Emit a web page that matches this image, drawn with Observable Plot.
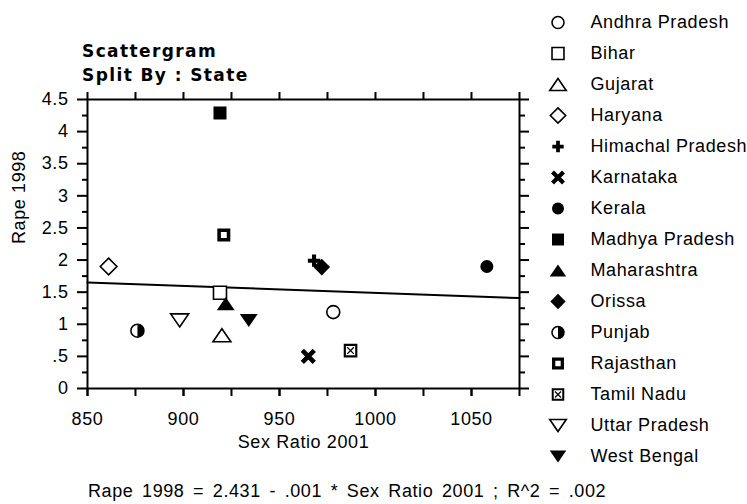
<!DOCTYPE html>
<html>
<head>
<meta charset="utf-8">
<script src="https://cdn.jsdelivr.net/npm/d3@7"></script>
<script src="https://cdn.jsdelivr.net/npm/@observablehq/plot@0.6"></script>
<style>
  body { margin: 0; background: #fff; }
  #wrap { position: relative; width: 747px; height: 504px; background: #fff; overflow: hidden; }
  #plot, #legend { position: absolute; top: 0; }
  #plot { left: 0; }
  #legend { left: 540px; }
  #title { position: absolute; left: 82px; top: 39px; font: bold 17px "DejaVu Sans", sans-serif; letter-spacing: 1.4px; line-height: 24px; color: #000; white-space: nowrap; }
  #eq { position: absolute; left: 88px; top: 481px; font: 18px "Liberation Sans", sans-serif; letter-spacing: 0.6px; word-spacing: 3px; color: #000; white-space: nowrap; }
</style>
</head>
<body>
<div id="wrap">
  <div id="plot"></div>
  <div id="legend"></div>
  <div id="title"></div>
  <div id="eq"></div>
</div>
<script>
// ---------------- data ----------------
const states = ["Andhra Pradesh", "Bihar", "Gujarat", "Haryana", "Himachal Pradesh", "Karnataka", "Kerala",
  "Madhya Pradesh", "Maharashtra", "Orissa", "Punjab", "Rajasthan", "Tamil Nadu", "Uttar Pradesh", "West Bengal"];
const sexRatio2001 = [978, 919, 920, 861, 968, 965, 1058, 919, 922, 972, 876, 921, 987, 898, 934];
const rape1998 = [1.19, 1.49, 0.83, 1.90, 1.99, 0.50, 1.90, 4.29, 1.32, 1.89, 0.90, 2.39, 0.59, 1.06, 1.06];

const xDomain = [850, 1075];
const yDomain = [0, 4.5];
const xTicks = [850, 900, 950, 1000, 1050];
const xTickLabels = ["850", "900", "950", "1000", "1050"];
const xMinorTicks = [850, 875, 900, 925, 950, 975, 1000, 1025, 1050, 1075];
const yTicks = [0, 0.5, 1, 1.5, 2, 2.5, 3, 3.5, 4, 4.5];
const yTickLabels = ["0", ".5", "1", "1.5", "2", "2.5", "3", "3.5", "4", "4.5"];
const yMinorTicks = [0.25, 0.75, 1.25, 1.75, 2.25, 2.75, 3.25, 3.75, 4.25];

const titleLines = ["Scattergram", "Split By : State"];
const xLabel = "Sex Ratio 2001";
const yLabel = "Rape 1998";
const caption = "Rape 1998 = 2.431 - .001 * Sex Ratio 2001 ; R^2 = .002";

// ---------------- marker styles (per state) ----------------
const markerStyle = {
  "Andhra Pradesh": "openCircle", "Bihar": "openSquare", "Gujarat": "openTriUp", "Haryana": "openDiamond",
  "Himachal Pradesh": "plus", "Karnataka": "times", "Kerala": "solidCircle", "Madhya Pradesh": "solidSquare",
  "Maharashtra": "solidTriUp", "Orissa": "solidDiamond", "Punjab": "halfCircle", "Rajasthan": "ringSquare",
  "Tamil Nadu": "boxX", "Uttar Pradesh": "openTriDown", "West Bengal": "solidTriDown"
};

// ---------------- custom symbol shapes ----------------
const rad = size => Math.sqrt(size / Math.PI);
function poly(c, pts) { c.moveTo(pts[0][0], pts[0][1]); for (let i = 1; i < pts.length; i++) c.lineTo(pts[i][0], pts[i][1]); c.closePath(); }
function rotRect(c, len, th, ang) {
  const ca = Math.cos(ang), sa = Math.sin(ang);
  const pts = [[-len, -th], [len, -th], [len, th], [-len, th]].map(([x, y]) => [x * ca - y * sa, x * sa + y * ca]);
  poly(c, pts);
}
const shapes = {
  circle: { draw(c, s) { const r = rad(s); c.moveTo(r, 0); c.arc(0, 0, r, 0, 2 * Math.PI); c.closePath(); } },
  square: { draw(c, s) { const r = rad(s); poly(c, [[-r, -r], [r, -r], [r, r], [-r, r]]); } },
  triUp: { draw(c, s) { const r = rad(s), w = r * 1.38; poly(c, [[0, -r], [w, r], [-w, r]]); } },
  triDown: { draw(c, s) { const r = rad(s), w = r * 1.38; poly(c, [[0, r], [w, -r], [-w, -r]]); } },
  diamond: { draw(c, s) { const r = rad(s) * 1.28; poly(c, [[0, -r], [r, 0], [0, r], [-r, 0]]); } },
  plus: { draw(c, s) { const r = rad(s) * 0.95, t = r * 0.33;
    poly(c, [[-t, -r], [t, -r], [t, -t], [r, -t], [r, t], [t, t], [t, r], [-t, r], [-t, t], [-r, t], [-r, -t], [-t, -t]]); } },
  times: { draw(c, s) { const r = rad(s) * 1.3; rotRect(c, r, r * 0.27, Math.PI / 4); rotRect(c, r, r * 0.27, -Math.PI / 4); } },
  rightHalf: { draw(c, s) { const r = rad(s); c.moveTo(0, -r); c.arc(0, 0, r, -Math.PI / 2, Math.PI / 2); c.closePath(); } },
  ringSquare: { draw(c, s) { const r = rad(s), i = r * 0.45;
    poly(c, [[-r, -r], [r, -r], [r, r], [-r, r]]); poly(c, [[-i, -i], [-i, i], [i, i], [i, -i]]); } },
  boxX: { draw(c, s) { const r = rad(s) * 1.05, i = r * 0.68;
    poly(c, [[-r, -r], [r, -r], [r, r], [-r, r]]); poly(c, [[-i, -i], [-i, i], [i, i], [i, -i]]);
    rotRect(c, i * 1.0, i * 0.14, Math.PI / 4); rotRect(c, i * 1.0, i * 0.14, -Math.PI / 4); } }
};
const OPEN = { fill: "white", stroke: "black", strokeWidth: 1.6 };
const SOLID = { fill: "black", stroke: "none" };
const styleParts = {
  openCircle: [[shapes.circle, OPEN]], openSquare: [[shapes.square, OPEN]], openTriUp: [[shapes.triUp, OPEN]],
  openDiamond: [[shapes.diamond, OPEN]], plus: [[shapes.plus, SOLID]], times: [[shapes.times, SOLID]],
  solidCircle: [[shapes.circle, SOLID]], solidSquare: [[shapes.square, SOLID]], solidTriUp: [[shapes.triUp, SOLID]],
  solidDiamond: [[shapes.diamond, SOLID]], halfCircle: [[shapes.circle, OPEN], [shapes.rightHalf, SOLID]],
  ringSquare: [[shapes.ringSquare, SOLID]], boxX: [[shapes.boxX, SOLID]], openTriDown: [[shapes.triDown, OPEN]],
  solidTriDown: [[shapes.triDown, SOLID]]
};
const R = 6.5;

// ---------------- table ----------------
const rows = states.map((s, i) => ({ state: s, x: sexRatio2001[i], y: rape1998[i] }));

// regression line (least squares), drawn across the x domain
const mx = d3.mean(sexRatio2001), my = d3.mean(rape1998);
const slope = d3.sum(sexRatio2001, (x, i) => (x - mx) * (rape1998[i] - my)) / d3.sum(sexRatio2001, x => (x - mx) ** 2);
const intercept = my - slope * mx;
const fitLine = xDomain.map(x => ({ x, y: intercept + slope * x }));

const pointMarks = [];
for (const r of rows) {
  for (const [shape, st] of styleParts[markerStyle[r.state]]) {
    pointMarks.push(Plot.dot([r], { x: "x", y: "y", r: R, symbol: shape, ...st }));
  }
}

const font = "Liberation Sans, Arial, sans-serif";
const chart = Plot.plot({
  width: 747, height: 504,
  marginLeft: 87, marginRight: 228, marginTop: 99, marginBottom: 116,
  style: { fontFamily: font, fontSize: "18px", letterSpacing: "0.6px", color: "black", background: "transparent", overflow: "visible" },
  x: { domain: xDomain, label: null },
  y: { domain: yDomain, label: null },
  marks: [
    Plot.line(fitLine, { x: "x", y: "y", stroke: "black", strokeWidth: 2 }),
    Plot.frame({ stroke: "black", strokeWidth: 2 }),
    Plot.axisX({ anchor: "bottom", ticks: xTicks, tickSize: 8, tickPadding: 16, strokeWidth: 2, label: null,
      tickFormat: d => xTickLabels[xTicks.indexOf(d)] }),
    Plot.axisX({ anchor: "bottom", ticks: xMinorTicks, tickSize: 8, strokeWidth: 2, fill: "none", label: null }),
    Plot.axisX({ anchor: "top", ticks: xMinorTicks, tickSize: 8, strokeWidth: 2, fill: "none", label: null }),
    Plot.axisY({ anchor: "left", ticks: yTicks, tickSize: 10, tickPadding: 9, strokeWidth: 2, label: null,
      tickFormat: d => yTickLabels[yTicks.indexOf(d)] }),
    Plot.axisY({ anchor: "left", ticks: yMinorTicks, tickSize: 5, strokeWidth: 2, fill: "none", label: null }),
    Plot.axisY({ anchor: "right", ticks: yTicks, tickSize: 9, strokeWidth: 2, fill: "none", label: null }),
    Plot.axisY({ anchor: "right", ticks: yMinorTicks, tickSize: 5, strokeWidth: 2, fill: "none", label: null }),
    Plot.text([xLabel], { frameAnchor: "bottom", dy: 59, text: d => d, fontSize: 18, fill: "black" }),
    Plot.text([yLabel], { frameAnchor: "left", dx: -68, rotate: -90, text: d => d, fontSize: 18, fill: "black" }),
    ...pointMarks
  ]
});
document.getElementById("plot").appendChild(chart);

// ---------------- legend ----------------
const legendMarks = [];
for (const s of states) {
  for (const [shape, st] of styleParts[markerStyle[s]]) {
    legendMarks.push(Plot.dot([s], { x: () => 0, y: d => d, r: R * 0.92, symbol: shape, ...st }));
  }
}
const legend = Plot.plot({
  width: 207, height: 504, margin: 0,
  style: { fontFamily: font, fontSize: "18px", letterSpacing: "0.6px", color: "black", background: "transparent", overflow: "visible" },
  x: { domain: [0, 1], range: [17.5, 50], axis: null },
  y: { type: "point", domain: states, range: [16, 462], padding: 0, axis: null },
  marks: [
    ...legendMarks,
    Plot.text(states, { x: () => 1, y: d => d, text: d => d, textAnchor: "start", fontSize: 18, fill: "black" })
  ]
});
document.getElementById("legend").appendChild(legend);

document.getElementById("title").innerHTML = titleLines.join("<br>");
document.getElementById("eq").textContent = caption;
</script>
</body>
</html>
